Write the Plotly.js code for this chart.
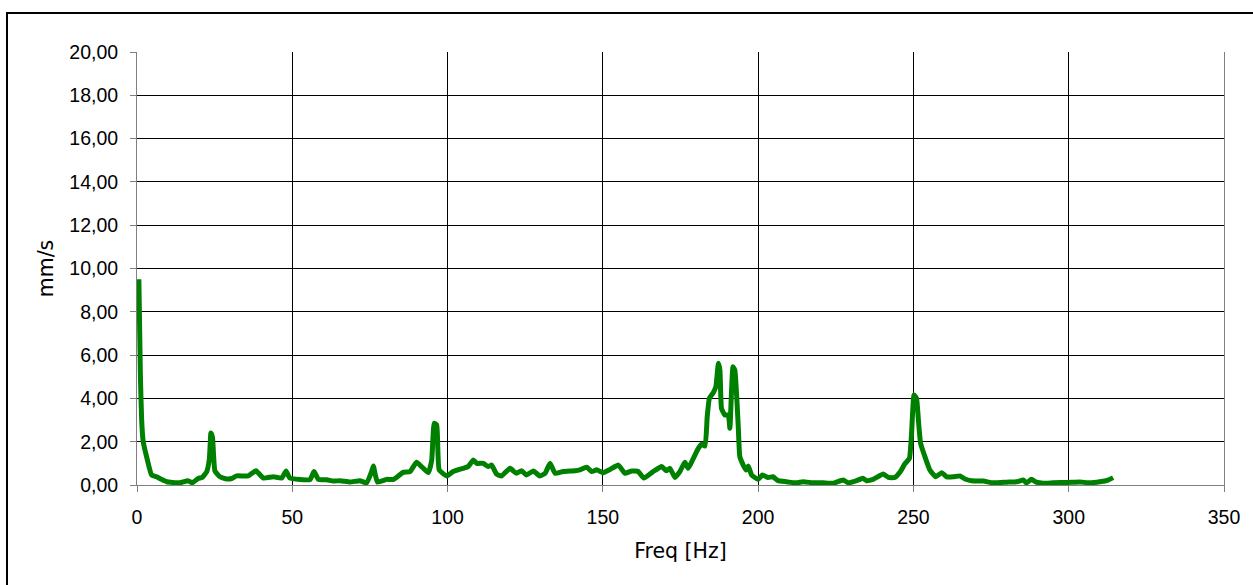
<!DOCTYPE html>
<html>
<head>
<meta charset="utf-8">
<script src="https://cdn.plot.ly/plotly-3.0.1.min.js"></script>
<style>
  html, body { margin: 0; padding: 0; background: #fff; }
  #wrap { position: relative; width: 1253px; height: 585px; overflow: hidden; }
  #chart { position: absolute; left: 0; top: 0; width: 1253px; height: 585px; }
  #frame { position: absolute; left: 6px; top: 12px; width: 1300px; height: 700px;
           border: 2px solid #000; box-sizing: border-box; pointer-events: none; }
</style>
</head>
<body>
<div id="wrap">
  <div id="chart"></div>
  <div id="frame"></div>
</div>
<script>
const freqHz = [0.6, 1.1, 1.5, 2.0, 3.1, 4.7, 6.3, 8.0, 9.6, 11.5, 13.8, 16.4, 17.8, 19.7, 21.0, 22.4, 23.3, 23.8, 24.3, 25.1, 26.7, 28.9, 30.5, 32.1, 35.8, 38.3, 40.7, 43.9, 46.6, 48.0, 49.2, 52.5, 55.7, 57.0, 58.4, 61.1, 63.2, 65.4, 68.6, 71.8, 73.9, 75.5, 76.1, 77.4, 80.4, 82.6, 85.7, 87.9, 90.0, 91.6, 93.8, 94.9, 95.7, 96.5, 97.3, 99.7, 101.8, 105.0, 106.6, 108.3, 109.4, 111.5, 113.1, 114.2, 115.8, 117.4, 120.1, 122.2, 123.8, 125.4, 127.6, 129.7, 131.4, 133.0, 134.6, 137.2, 141.0, 142.6, 144.8, 146.4, 148.0, 150.1, 152.3, 155.0, 157.1, 159.3, 161.4, 163.2, 166.2, 168.9, 170.5, 171.6, 173.2, 174.8, 176.4, 177.5, 179.1, 180.7, 181.8, 182.9, 183.6, 184.3, 185.6, 186.4, 187.2, 187.7, 188.2, 189.3, 190.4, 190.9, 191.4, 191.9, 192.5, 193.6, 194.1, 195.2, 196.1, 196.8, 197.9, 200.0, 201.4, 203.2, 204.8, 206.4, 209.1, 212.3, 214.5, 217.7, 220.9, 224.1, 227.4, 229.0, 231.7, 233.7, 234.9, 237.0, 240.3, 241.9, 244.0, 245.7, 247.3, 248.7, 249.4, 250.2, 251.0, 251.6, 252.3, 253.7, 255.3, 257.2, 259.1, 260.7, 262.8, 265.0, 266.6, 268.7, 272.5, 275.7, 280.0, 283.3, 285.4, 286.4, 288.0, 289.6, 291.8, 295.0, 299.8, 303.6, 306.8, 310.0, 312.7, 314.3];
const velocityMmS = [9.5, 5.0, 3.0, 2.0, 1.3, 0.46, 0.38, 0.25, 0.15, 0.12, 0.1, 0.2, 0.1, 0.3, 0.35, 0.6, 1.2, 2.4, 2.2, 0.65, 0.38, 0.28, 0.3, 0.42, 0.42, 0.66, 0.32, 0.38, 0.32, 0.65, 0.32, 0.25, 0.25, 0.62, 0.26, 0.24, 0.18, 0.2, 0.14, 0.2, 0.1, 0.6, 0.88, 0.14, 0.26, 0.26, 0.58, 0.62, 1.05, 0.85, 0.57, 1.15, 2.85, 2.78, 0.7, 0.42, 0.62, 0.77, 0.85, 1.15, 1.0, 1.0, 0.85, 0.92, 0.5, 0.42, 0.77, 0.54, 0.66, 0.46, 0.65, 0.42, 0.54, 1.0, 0.54, 0.62, 0.66, 0.7, 0.82, 0.62, 0.7, 0.57, 0.72, 0.92, 0.54, 0.65, 0.62, 0.32, 0.62, 0.85, 0.66, 0.77, 0.35, 0.62, 1.05, 0.77, 1.22, 1.68, 1.88, 1.8, 3.15, 4.0, 4.27, 4.55, 5.62, 5.3, 3.54, 3.23, 3.23, 2.62, 4.23, 5.46, 5.3, 2.69, 1.31, 0.92, 0.69, 0.88, 0.46, 0.26, 0.46, 0.35, 0.38, 0.2, 0.15, 0.1, 0.15, 0.1, 0.1, 0.08, 0.23, 0.1, 0.2, 0.31, 0.2, 0.26, 0.51, 0.35, 0.35, 0.6, 0.99, 1.22, 2.39, 4.16, 4.0, 3.0, 1.93, 1.31, 0.69, 0.38, 0.57, 0.38, 0.38, 0.42, 0.28, 0.2, 0.18, 0.1, 0.13, 0.15, 0.23, 0.1, 0.26, 0.13, 0.08, 0.1, 0.12, 0.14, 0.1, 0.15, 0.23, 0.34];
const xTitle = "Freq [Hz]";
const yTitle = "mm/s";

const trace = {
  x: freqHz, y: velocityMmS, type: 'scatter', mode: 'lines',
  line: {color: '#008000', width: 5, shape: 'spline', smoothing: 0.4},
  hoverinfo: 'x+y'
};

const tickFont = {family: 'Liberation Sans, Arial, sans-serif', size: 19.5, color: '#000'};
const titleFont = {family: 'DejaVu Sans, Verdana, sans-serif', size: 20.5, color: '#000'};

const layout = {
  width: 1253, height: 585,
  margin: {l: 137, r: 29, t: 52, b: 100, pad: 0},
  paper_bgcolor: '#fff', plot_bgcolor: '#fff',
  separators: ',.',
  showlegend: false,
  xaxis: {
    range: [0, 350], dtick: 50, tick0: 0,
    showgrid: true, gridcolor: '#000', gridwidth: 1,
    showline: true, linecolor: '#808080', linewidth: 1, mirror: false,
    zeroline: false,
    ticks: 'outside', ticklen: 6, tickcolor: '#808080', tickwidth: 1,
    tickfont: tickFont, ticklabelstandoff: 9,
    title: {text: xTitle, font: titleFont, standoff: 16},
    automargin: false, fixedrange: true
  },
  yaxis: {
    range: [0, 20], dtick: 2, tick0: 0, tickformat: '.2f',
    showgrid: true, gridcolor: '#000', gridwidth: 1,
    showline: true, linecolor: '#808080', linewidth: 1, mirror: true,
    zeroline: false,
    ticks: 'outside', ticklen: 6, tickcolor: '#808080', tickwidth: 1,
    tickfont: tickFont, ticklabelstandoff: 8,
    title: {text: yTitle, font: titleFont, standoff: 10},
    automargin: false, fixedrange: true
  }
};

Plotly.newPlot('chart', [trace], layout, {displayModeBar: false, staticPlot: true});
</script>
</body>
</html>
